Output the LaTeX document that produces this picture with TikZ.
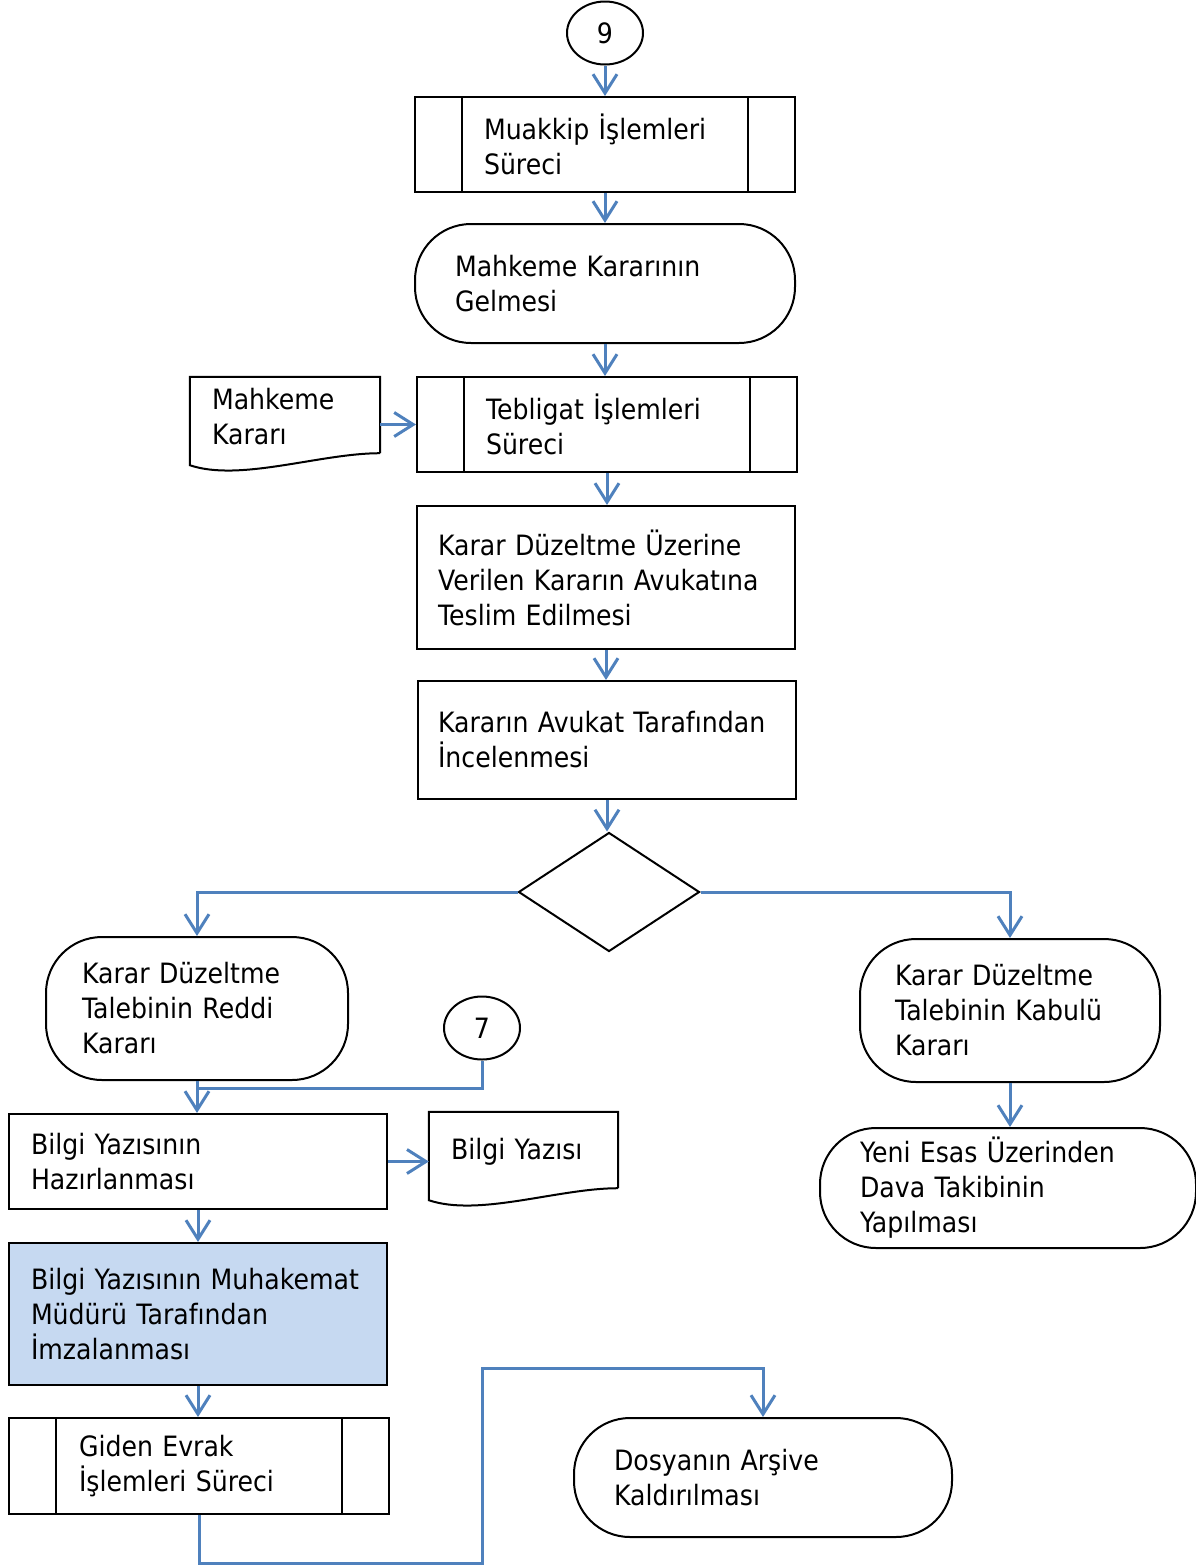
\documentclass[tikz,border=0pt]{standalone}
\usepackage{fontspec}
\setmainfont{DejaVu Sans}[FakeStretch=0.9]
\usetikzlibrary{shapes.geometric,arrows.meta}
\definecolor{flowblue}{RGB}{79,129,189}
\definecolor{notefill}{RGB}{198,217,241}
\newcommand{\flowfont}{\fontsize{28}{35}\selectfont}
\tikzset{
  stepbox/.style  = {shape=rectangle, draw, line width=2pt,
                     align=left, font=\flowfont},
  subproc/.style  = {stepbox, inner xsep=69pt, text width=242pt,
                     minimum height=95pt},
  terminal/.style = {stepbox, rounded corners=56pt},
  paper/.style    = {shape=rectangle, align=left, font=\flowfont,
                     inner xsep=22pt, text width=146pt, minimum height=80pt},
  onpage/.style   = {ellipse, draw, line width=2pt, minimum width=76pt,
                     minimum height=63pt, inner sep=0pt, font=\flowfont},
  decision/.style = {diamond, draw, line width=2pt, aspect=1.52,
                     minimum width=181pt, minimum height=119pt, inner sep=0pt},
  flow/.style     = {draw=flowblue, line width=3pt,
                     -{Straight Barb[length=19pt,width=24pt]}},
  link/.style     = {draw=flowblue, line width=3pt}
}

\begin{document}
\begin{tikzpicture}[x=1pt, y=-1pt]
  \useasboundingbox (0,0) rectangle (1195,1566);

  % main column
  \node[onpage] (c9) at (605,33) {9};
  \node[subproc] (muakkip) at (605,144.5) {Muakkip İşlemleri\\Süreci};
  \node[terminal, inner xsep=40pt, text width=300pt, minimum height=119pt]
    (gelme) at (605,283.5) {Mahkeme Kararının\\Gelmesi};
  \node[paper] (mkarar) at (285,417) {Mahkeme\\Kararı};
  \node[subproc] (tebligat) at (607,424.5) {Tebligat İşlemleri\\Süreci};
  \node[stepbox, inner xsep=21pt, text width=336pt, minimum height=143pt]
    (teslim) at (606,577.5) {Karar Düzeltme Üzerine\\Verilen Kararın Avukatına\\Teslim Edilmesi};
  \node[stepbox, inner xsep=20pt, text width=338pt, minimum height=118pt]
    (incele) at (607,740) {Kararın Avukat Tarafından\\İncelenmesi};
  \node[decision] (karar) at (609,892) {};

  % branches
  \node[terminal, inner xsep=36pt, text width=230pt, minimum height=143pt]
    (reddi) at (197,1008.5) {Karar Düzeltme\\Talebinin Reddi\\Kararı};
  \node[terminal, inner xsep=35pt, text width=230pt, minimum height=143pt]
    (kabul) at (1010,1010.5) {Karar Düzeltme\\Talebinin Kabulü\\Kararı};
  \node[onpage] (c7) at (482,1028) {7};
  \node[terminal, inner xsep=40pt, text width=296pt, minimum height=120pt]
    (yeni) at (1008,1188) {Yeni Esas Üzerinden\\Dava Takibinin\\Yapılması};
  \node[stepbox, inner xsep=22pt, text width=334pt, minimum height=95pt]
    (hazir) at (198,1161.5) {Bilgi Yazısının\\Hazırlanması};
  \node[paper, text width=145pt] (byazi) at (523.5,1152) {Bilgi Yazısı};
  \node[stepbox, fill=notefill, inner xsep=22pt, text width=334pt, minimum height=142pt]
    (imza) at (198,1314) {Bilgi Yazısının Muhakemat\\Müdürü Tarafından\\İmzalanması};
  \node[subproc, inner xsep=70pt, text width=240pt, minimum height=96pt]
    (giden) at (199,1466) {Giden Evrak\\İşlemleri Süreci};
  \node[terminal, inner xsep=40pt, text width=298pt, minimum height=119pt]
    (arsiv) at (763,1477.5) {Dosyanın Arşive\\Kaldırılması};

  % side bars and paper edges
  \foreach \n in {muakkip,tebligat,giden} {
    \draw[line width=2pt] ([xshift=48pt]\n.north west) -- ([xshift=48pt]\n.south west);
    \draw[line width=2pt] ([xshift=-48pt]\n.north east) -- ([xshift=-48pt]\n.south east);
  }
  \foreach \n in {mkarar,byazi}
    \draw[line width=2pt] ([yshift=4pt]\n.south east) -- (\n.north east)
      -- (\n.north west) -- ([yshift=-8pt]\n.south west)
      .. controls +(50pt,-17pt) and +(-60pt,0pt) .. ([yshift=4pt]\n.south east);

  % connectors
  \draw[flow] (c9.south) -- (muakkip.north);
  \draw[flow] (muakkip.south) -- (gelme.north);
  \draw[flow] (gelme.south) -- (gelme.south |- tebligat.north);
  \draw[flow] (mkarar.east |- tebligat.west) -- (tebligat.west);
  \draw[flow] (tebligat.south) -- (tebligat.south |- teslim.north);
  \draw[flow] (teslim.south) -- (teslim.south |- incele.north);
  \draw[flow] (incele.south) -- (incele.south |- karar.north);
  \draw[flow] (karar.west) -| (reddi.north);
  \draw[flow] (karar.east) -| (kabul.north);
  \draw[flow] (kabul.south) -- (kabul.south |- yeni.north);
  \coordinate (merge) at ([yshift=-7pt]reddi.south);
  \draw[link] (c7.south) |- (merge);
  \draw[flow] (reddi.south) -- (reddi.south |- hazir.north);
  \draw[flow] (hazir.east) -- (hazir.east -| byazi.west);
  \draw[flow] (hazir.south) -- (imza.north);
  \draw[flow] (imza.south) -- (imza.south |- giden.north);
  \coordinate (lowturn) at (482,1563);
  \coordinate (highturn) at (482,1368);
  \draw[flow] (giden.south) |- (lowturn) -- (highturn) -| (arsiv.north);
\end{tikzpicture}
\end{document}
